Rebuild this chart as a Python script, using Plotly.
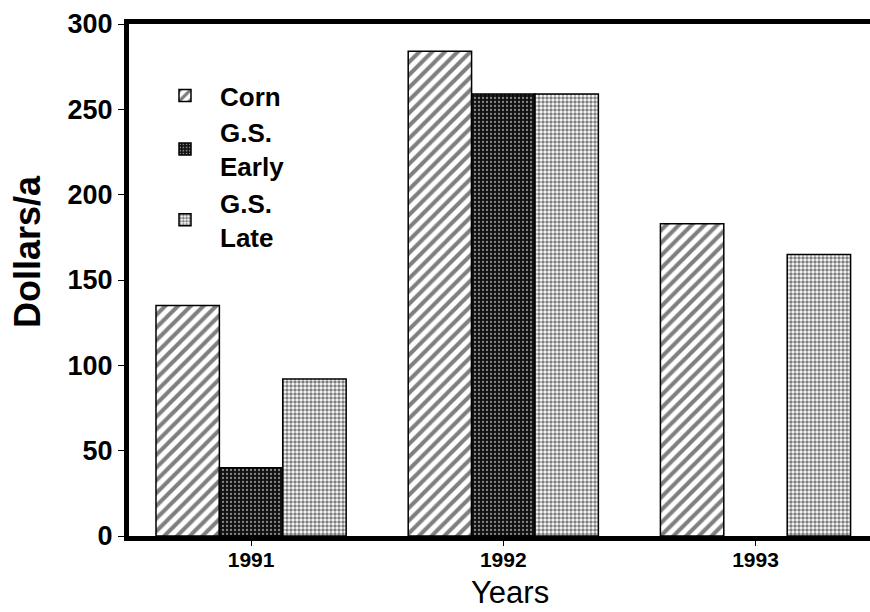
import plotly.graph_objects as go

years = ["1991", "1992", "1993"]
corn = [135, 284, 183]
gs_early = [40, 259, 0]
gs_late = [92, 259, 165]
y_ticks = [0, 50, 100, 150, 200, 250, 300]

W, H = 870, 612
L, R, T, B = 129, 0, 24, 76
pw, ph = W - L - R, H - T - B

FONT = "Liberation Sans"

fig = go.Figure()
fig.add_trace(go.Bar(
    name="Corn", x=years, y=corn, legendgroup="a",
    marker=dict(color="white", line=dict(color="black", width=1.5),
                pattern=dict(shape="/", fgcolor="black", bgcolor="white", size=9, solidity=0.45)),
))
fig.add_trace(go.Bar(
    name="G.S.<br>Early", x=years, y=gs_early, legendgroup="b",
    marker=dict(color="black", line=dict(color="black", width=[1.5 if v else 0 for v in gs_early]),
                pattern=dict(shape=".", fgcolor="white", bgcolor="#111", size=4, solidity=0.25)),
))
fig.add_trace(go.Bar(
    name="G.S.<br>Late", x=years, y=gs_late, legendgroup="c",
    marker=dict(color="white", line=dict(color="black", width=1.5),
                pattern=dict(shape=".", fgcolor="black", bgcolor="white", size=4, solidity=0.6)),
))

fig.update_layout(
    width=W, height=H,
    margin=dict(l=L, r=R, t=T, b=B),
    paper_bgcolor="white", plot_bgcolor="white",
    barmode="group", bargap=0.246, bargroupgap=0,
    font=dict(family=FONT, color="black"),
    showlegend=True,
    legend=dict(
        x=(150 - L) / pw, y=1 - (72 - T) / ph, xanchor="left", yanchor="top",
        font=dict(size=26, family=FONT, weight="bold"),
        bgcolor="rgba(0,0,0,0)", itemwidth=60, traceorder="grouped",
        tracegroupgap=0,
    ),
    xaxis=dict(
        range=[-0.484, 2.454], showline=True, linewidth=5, linecolor="black",
        mirror=True, ticks="outside", ticklen=5, tickwidth=1, tickcolor="black",
        tickfont=dict(size=21, family=FONT, weight="bold"), showgrid=False,
        ticklabelstandoff=-4,
    ),
    yaxis=dict(
        range=[0, 300], tickvals=y_ticks, showline=True, linewidth=5, linecolor="black",
        ticks="outside", ticklen=6, tickwidth=1, tickcolor="black",
        tickfont=dict(size=27, family=FONT, weight="bold"), showgrid=False, zeroline=False,
    ),
    annotations=[
        dict(text="<b>Dollars/a</b>", textangle=-90, xref="paper", yref="paper",
             x=(27 - L) / pw, y=1 - (252 - T) / ph, showarrow=False,
             font=dict(size=36, family=FONT), xanchor="center", yanchor="middle"),
        dict(text="Years", xref="paper", yref="paper",
             x=(510 - L) / pw, y=1 - (592 - T) / ph, showarrow=False,
             font=dict(size=31, family=FONT), xanchor="center", yanchor="middle"),
    ],
)

fig.write_html("out.html", config={"displayModeBar": False},
               post_script="document.body.style.margin='0';document.body.style.overflow='hidden';")
